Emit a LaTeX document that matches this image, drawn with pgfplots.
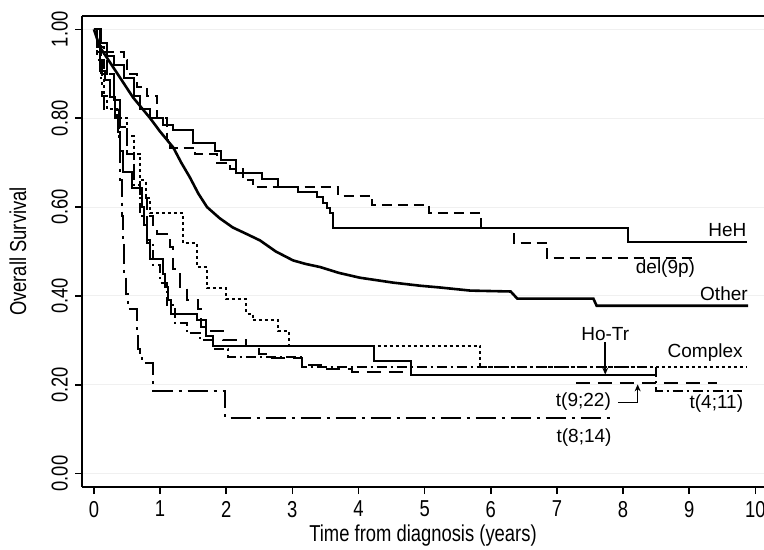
\documentclass[border=0pt]{standalone}
\usepackage{fontspec}
\setmainfont{Liberation Sans}
\newfontfamily\narrowfont{Liberation Sans}[FakeStretch=0.8]
\usepackage{pgfplots}
\pgfplotsset{compat=1.18}
\usetikzlibrary{arrows.meta}

\begin{document}
\begin{tikzpicture}
\begin{axis}[
  scale only axis, width=341pt, height=235.5pt,
  xmin=-0.18, xmax=10.13, ymin=-0.03, ymax=1.03,
  axis x line*=box, axis y line*=left,
  axis line style={-, line width=1.1pt, black},
  tick align=outside, tick pos=left,
  major tick length=3.5pt,
  tick style={black, line width=0.8pt},
  xtick={0,1,...,10},
  ytick={0,0.2,0.4,0.6,0.8,1},
  yticklabel style={rotate=90, anchor=south, /pgf/number format/.cd, fixed, fixed zerofill, precision=2},
  /pgf/number format/assume math mode=true,
  tick label style={font=\fontsize{11.5}{13}\narrowfont},
  ymajorgrids, major grid style={gray!12, line width=0.5pt},
  every axis x label/.style={at={(axis description cs:0.5,0)}, yshift=-24.5pt, anchor=center},
  every axis y label/.style={at={(axis description cs:0,0.5)}, xshift=-32pt, rotate=90, anchor=center},
  label style={font=\fontsize{11.5}{13}\narrowfont},
  xlabel={Time from diagnosis (years)},
  ylabel={Overall Survival},
  clip=false,
]
\coordinate (bl) at (rel axis cs:0,0);
\coordinate (tr) at (rel axis cs:1,1);

% HeH
\addplot[const plot, black, line width=1pt] coordinates {
(0,1)(0.1,0.97)(0.2,0.94)(0.3,0.92)(0.45,0.89)(0.6,0.85)(0.7,0.82)(0.85,0.80)(1.05,0.785)(1.2,0.773)(1.5,0.745)(1.83,0.727)(1.92,0.705)(2.15,0.676)(2.54,0.664)(2.78,0.646)(3.09,0.633)(3.37,0.622)(3.46,0.61)(3.52,0.599)(3.57,0.586)(3.62,0.553)(8.08,0.522)(9.88,0.522)
};
% del(9p)
\addplot[const plot, black, line width=1pt, dash pattern=on 5pt off 3pt] coordinates {
(0,1)(0.1,0.97)(0.2,0.95)(0.45,0.93)(0.5,0.90)(0.65,0.87)(0.8,0.85)(0.95,0.80)(1.1,0.75)(1.15,0.734)(1.53,0.72)(1.86,0.70)(2.06,0.685)(2.25,0.66)(2.4,0.646)(3.69,0.626)(4.2,0.604)(5.07,0.586)(5.85,0.553)(6.35,0.52)(6.85,0.486)(9.09,0.486)
};
% Other
\addplot[sharp plot, black, line width=1.3pt] coordinates {
(0,1)(0.09,0.96)(0.29,0.915)(0.59,0.847)(0.85,0.80)(1.0,0.77)(1.2,0.734)(1.32,0.70)(1.45,0.667)(1.58,0.63)(1.71,0.60)(1.9,0.575)(2.1,0.554)(2.3,0.54)(2.51,0.525)(2.75,0.50)(3.01,0.48)(3.2,0.472)(3.42,0.465)(3.7,0.452)(4.02,0.441)(4.52,0.43)(4.93,0.423)(5.23,0.419)(5.69,0.412)(6.3,0.41)(6.4,0.394)(7.55,0.394)(7.6,0.378)(9.89,0.378)
};
% Complex
\addplot[const plot, black, line width=1pt, dash pattern=on 1.5pt off 1.5pt] coordinates {
(0,1)(0.05,0.95)(0.1,0.89)(0.15,0.85)(0.2,0.82)(0.35,0.80)(0.5,0.76)(0.6,0.72)(0.7,0.66)(0.78,0.62)(0.85,0.586)(1.35,0.518)(1.56,0.464)(1.71,0.417)(2.0,0.392)(2.3,0.36)(2.4,0.345)(2.78,0.32)(2.95,0.288)(5.84,0.239)(9.88,0.239)
};
% Ho-Tr
\addplot[const plot, black, line width=1pt] coordinates {
(0,1)(0.09,0.907)(0.17,0.885)(0.24,0.847)(0.32,0.80)(0.36,0.77)(0.40,0.727)(0.44,0.678)(0.58,0.644)(0.73,0.60)(0.76,0.56)(0.8,0.525)(0.85,0.484)(1.04,0.45)(1.08,0.42)(1.12,0.39)(1.16,0.36)(1.56,0.345)(1.62,0.33)(1.7,0.31)(1.8,0.288)(4.23,0.254)(4.79,0.221)(8.5,0.221)
};
% t(9;22)
\addplot[const plot, black, line width=1pt, dash pattern=on 7pt off 4pt] coordinates {
(0,1)(0.1,0.95)(0.2,0.90)(0.3,0.84)(0.4,0.78)(0.5,0.72)(0.6,0.66)(0.7,0.62)(0.8,0.58)(0.9,0.56)(0.95,0.54)(1.15,0.51)(1.2,0.46)(1.3,0.42)(1.4,0.39)(1.57,0.37)(1.62,0.345)(1.7,0.32)(1.95,0.30)(2.3,0.288)(2.5,0.27)(2.6,0.26)(3.15,0.245)(3.5,0.235)(3.9,0.228)(4.8,0.221)(7.28,0.203)(9.42,0.203)
};
% t(4;11)
\addplot[const plot, black, line width=1pt, dash pattern=on 5pt off 2pt on 1pt off 2pt] coordinates {
(0,1)(0.05,0.96)(0.15,0.90)(0.3,0.84)(0.4,0.78)(0.5,0.72)(0.6,0.65)(0.7,0.58)(0.8,0.52)(0.9,0.47)(1.0,0.43)(1.1,0.38)(1.23,0.338)(1.41,0.316)(1.6,0.30)(1.8,0.28)(2.03,0.262)(3.15,0.241)(8.5,0.187)(9.8,0.187)
};
% t(8;14)
\addplot[const plot, black, line width=1pt, dash pattern=on 10pt off 3pt on 1.5pt off 3pt] coordinates {
(0,1)(0.05,0.93)(0.12,0.85)(0.15,0.82)(0.38,0.75)(0.40,0.66)(0.42,0.58)(0.44,0.52)(0.46,0.45)(0.48,0.405)(0.52,0.37)(0.65,0.32)(0.67,0.28)(0.69,0.26)(0.73,0.248)(0.9,0.187)(1.98,0.126)(7.85,0.126)
};

\begin{scope}[every node/.style={font=\fontsize{9.5}{11}\selectfont, inner sep=1pt}]
\node[anchor=south east] at (axis cs:9.9,0.527) {HeH};
\node at (axis cs:8.64,0.462) {del(9p)};
\node[anchor=south east] at (axis cs:9.92,0.384) {Other};
\node at (axis cs:7.73,0.315) {Ho-Tr};
\node at (axis cs:9.24,0.272) {Complex};
\node at (axis cs:7.40,0.162) {t(9;22)};
\node at (axis cs:9.41,0.158) {t(4;11)};
\node at (axis cs:7.41,0.081) {t(8;14)};
\end{scope}
\draw[-{Stealth[length=3.5pt,width=3pt]}, line width=0.8pt] (axis cs:7.73,0.296) -- (axis cs:7.73,0.223);
\draw[-{Stealth[length=3.5pt,width=3pt]}, line width=0.8pt] (axis cs:7.93,0.16) -- (axis cs:8.22,0.16) -- (axis cs:8.22,0.201);
\end{axis}
\pgfresetboundingbox
\path ([xshift=-41pt,yshift=-31.5pt]bl) rectangle ([yshift=8pt]tr);
\end{tikzpicture}
\end{document}
